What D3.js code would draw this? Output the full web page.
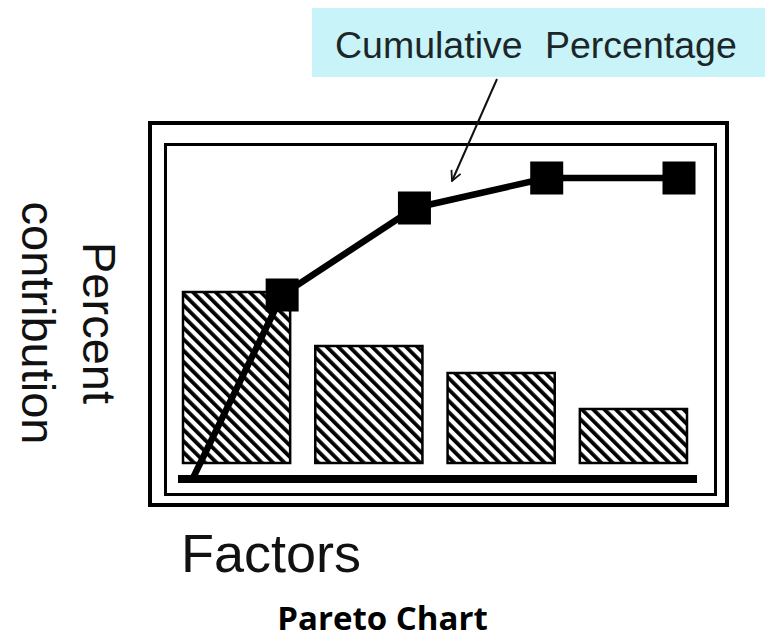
<!DOCTYPE html>
<html lang="en">
<head>
  <meta charset="UTF-8" />
  <script src="https://d3js.org/d3.v7.min.js"></script>
  <title>Pareto Chart</title>
  <style>
    body { margin: 0; background: #fff; }
  </style>
</head>
<body>
  <svg width="765" height="639"></svg>

  <script>
    const width = 765;
    const height = 639;

    // factors, sorted by contribution
    const factors = ["A", "B", "C", "D"];
    const contribution = [57, 39, 30, 18];
    // cumulative percentage, starting at the origin
    const cumulative = [0, 61, 90, 100, 100];

    const svg = d3.select("svg");
    const sans = "'Liberation Sans', Arial, sans-serif";

    // hatch for the bars
    const defs = svg.append("defs");
    defs.append("pattern")
      .attr("id", "hatch")
      .attr("patternUnits", "userSpaceOnUse")
      .attr("width", 8)
      .attr("height", 8)
      .attr("patternTransform", "rotate(-45)")
      .append("rect")
      .attr("x", 0).attr("y", 0)
      .attr("width", 3.8).attr("height", 8)
      .attr("fill", "#000");

    defs.append("marker")
      .attr("id", "head")
      .attr("viewBox", "0 0 12 12")
      .attr("refX", 11).attr("refY", 6)
      .attr("markerWidth", 12).attr("markerHeight", 12)
      .attr("markerUnits", "userSpaceOnUse")
      .attr("orient", "auto")
      .append("path")
      .attr("d", "M1,1 L11,6 L1,11")
      .attr("fill", "none")
      .attr("stroke", "#111")
      .attr("stroke-width", 1.8);

    // frames
    svg.append("rect")
      .attr("x", 150).attr("y", 123)
      .attr("width", 577).attr("height", 382)
      .attr("fill", "none").attr("stroke", "#000").attr("stroke-width", 4);
    svg.append("rect")
      .attr("x", 165.5).attr("y", 144.5)
      .attr("width", 550).attr("height", 350)
      .attr("fill", "none").attr("stroke", "#000").attr("stroke-width", 3);

    const x = d3.scaleBand()
      .domain(factors)
      .range([183, 687])
      .paddingInner(0.19)
      .paddingOuter(0);

    const yBar = d3.scaleLinear().domain([0, 100]).range([463, 163]);
    const yCum = d3.scaleLinear().domain([0, 100]).range([478, 178]);

    // base line
    svg.append("line")
      .attr("x1", 178).attr("x2", 697)
      .attr("y1", yCum(0) + 1).attr("y2", yCum(0) + 1)
      .attr("stroke", "#000").attr("stroke-width", 8);

    svg.selectAll("rect.bar")
      .data(contribution)
      .enter()
      .append("rect")
      .attr("class", "bar")
      .attr("x", (d, i) => x(factors[i]))
      .attr("y", d => yBar(d))
      .attr("width", x.bandwidth())
      .attr("height", d => yBar(0) - yBar(d))
      .attr("fill", "url(#hatch)")
      .attr("stroke", "#000")
      .attr("stroke-width", 2.5);

    // cumulative line: first point at origin, then at the right side of each bar
    const cx = i => i === 0 ? x(factors[0]) + 10 : x(factors[i - 1]) + x.bandwidth() - 8;

    svg.append("path")
      .datum(cumulative)
      .attr("d", d3.line().x((d, i) => cx(i)).y(d => yCum(d)))
      .attr("fill", "none")
      .attr("stroke", "#000")
      .attr("stroke-width", 6.5)
      .attr("stroke-linejoin", "round");

    const ms = 33;
    svg.selectAll("rect.mark")
      .data(cumulative.slice(1))
      .enter()
      .append("rect")
      .attr("class", "mark")
      .attr("x", (d, i) => cx(i + 1) - ms / 2)
      .attr("y", d => yCum(d) - ms / 2)
      .attr("width", ms)
      .attr("height", ms)
      .attr("fill", "#000");

    // callout
    svg.append("rect")
      .attr("x", 312).attr("y", 8)
      .attr("width", 453).attr("height", 69)
      .attr("fill", "#c8f4f9");
    const callout = svg.append("text")
      .attr("y", 58)
      .attr("font-family", sans)
      .attr("font-size", 37.5)
      .attr("fill", "#1c2628");
    callout.append("tspan").attr("x", 335).text("Cumulative");
    callout.append("tspan").attr("x", 545).text("Percentage");

    svg.append("line")
      .attr("x1", 497).attr("y1", 79)
      .attr("x2", 452).attr("y2", 181)
      .attr("stroke", "#111").attr("stroke-width", 2)
      .attr("marker-end", "url(#head)");

    // axis labels
    const yl = svg.append("text")
      .attr("transform", "translate(0,323) rotate(90)")
      .attr("text-anchor", "middle")
      .attr("font-family", sans)
      .attr("font-size", 47)
      .attr("fill", "#111");
    yl.append("tspan").attr("x", 0).attr("y", -83).text("Percent");
    yl.append("tspan").attr("x", 0).attr("y", -22).text("contribution");

    svg.append("text")
      .attr("x", 181).attr("y", 572)
      .attr("font-family", sans)
      .attr("font-size", 54)
      .attr("fill", "#111")
      .text("Factors");

    svg.append("text")
      .attr("x", width / 2).attr("y", 630)
      .attr("text-anchor", "middle")
      .attr("font-family", "'Open Sans', 'Noto Sans', sans-serif")
      .attr("font-weight", "bold")
      .attr("font-size", 33)
      .attr("fill", "#000")
      .text("Pareto Chart");
  </script>
</body>
</html>
